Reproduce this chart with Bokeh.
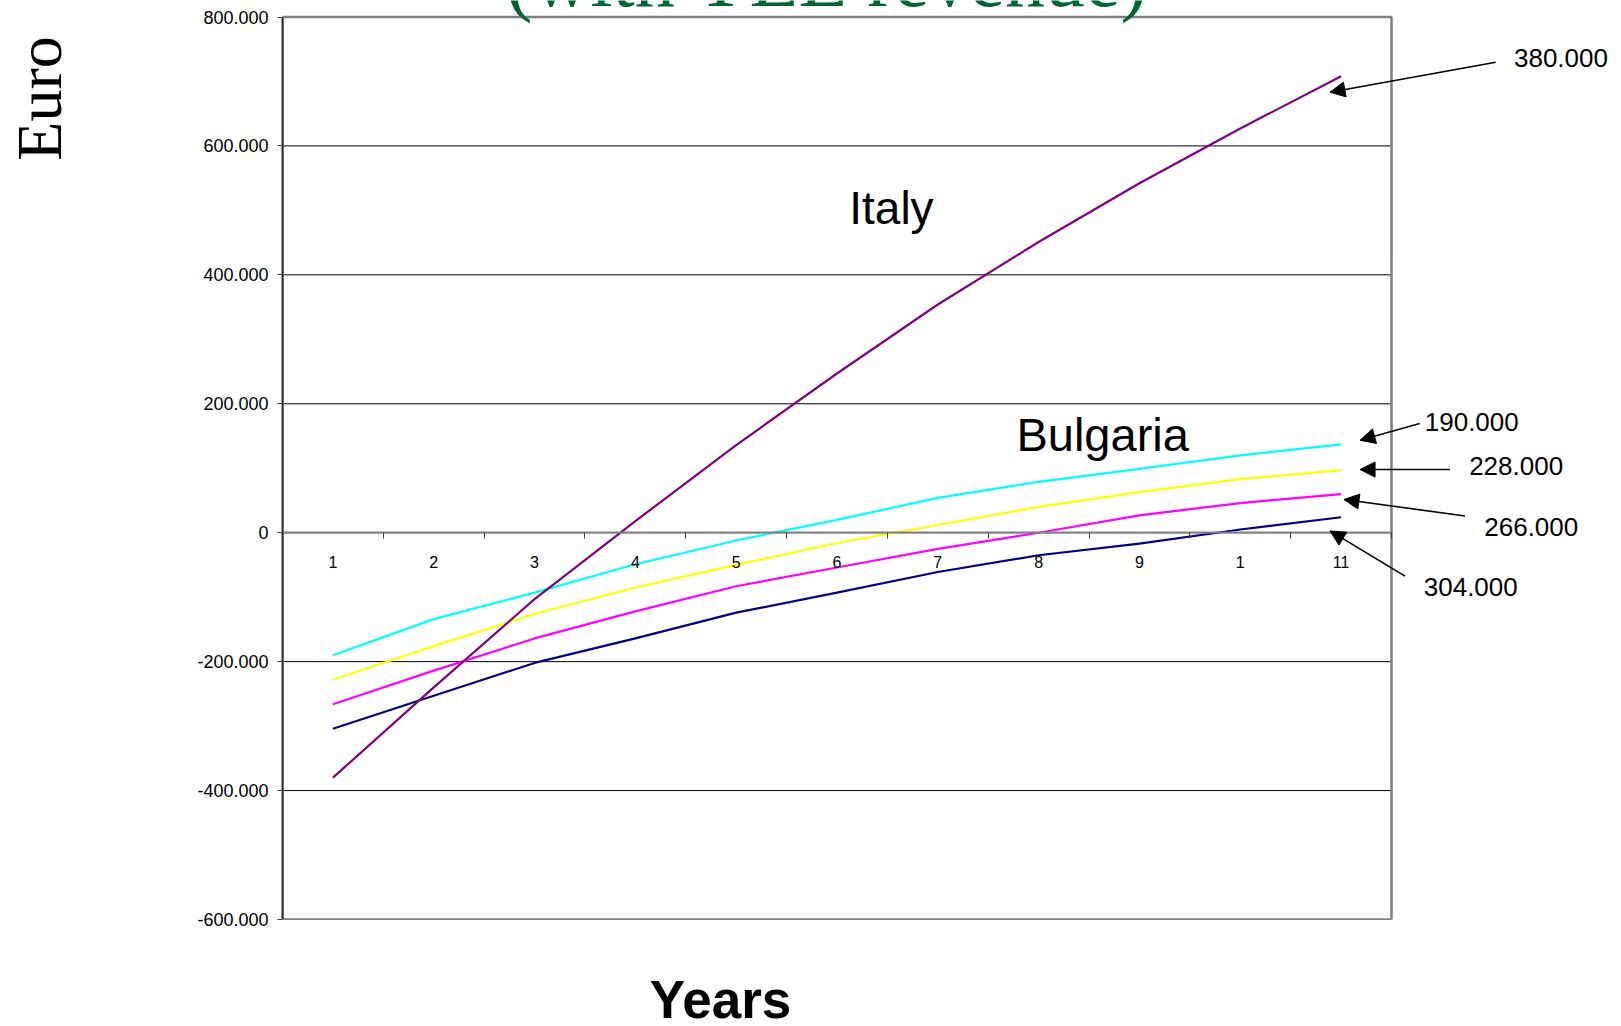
from math import pi
from bokeh.plotting import figure
from bokeh.layouts import column, row
from bokeh.models import FixedTicker, Label, Arrow, NormalHead, Range1d, ColumnDataSource
from bokeh.embed import file_html
from bokeh.resources import INLINE

# ---------------- data ----------------
years = [1, 2, 3, 4, 5, 6, 7, 8, 9, 10, 11]
year_labels = ["1", "2", "3", "4", "5", "6", "7", "8", "9", "1", "11"]

italy = [-380000, -240000, -103000, 18000, 136000, 247000, 354000, 451000, 542000, 627000, 708000]
bulgaria_190 = [-190000, -134000, -93000, -49000, -12000, 20000, 54000, 79000, 99000, 120000, 137000]
bulgaria_228 = [-228000, -176000, -126000, -85000, -50000, -16000, 12000, 40000, 63000, 83000, 97000]
bulgaria_266 = [-266000, -214000, -164000, -122000, -83000, -54000, -25000, 0, 27000, 46000, 60000]
bulgaria_304 = [-304000, -253000, -202000, -164000, -124000, -93000, -61000, -35000, -17000, 5000, 24000]

y_ticks = [-600000, -400000, -200000, 0, 200000, 400000, 600000, 800000]

series = [
    ("bulgaria_304", bulgaria_304, "#000080"),
    ("bulgaria_266", bulgaria_266, "#FF00FF"),
    ("bulgaria_228", bulgaria_228, "#FFFF00"),
    ("bulgaria_190", bulgaria_190, "#00FFFF"),
    ("italy", italy, "#800080"),
]


def euro(v):
    return f"{v:,}".replace(",", ".")


FONT = "Liberation Sans"
SERIF = "Liberation Serif"

# ---------------- layout geometry (pixels) ----------------
LEFT_STRIP = 100          # strip holding the vertical "Euro" title
MAIN_W, MAIN_H = 1521, 966
BORDER_L, BORDER_B = 182, 47
FRAME_W = MAIN_W - BORDER_L
FRAME_H = MAIN_H - BORDER_B
BOX_TOP_PX = 16.5          # plot box top inside the frame
PX_PER_YEAR = 1109 / 11.0
EUR_PER_PX = 1400000 / (FRAME_H - BOX_TOP_PX)

x_end = 0.5 + FRAME_W / PX_PER_YEAR
y_end = 800000 + BOX_TOP_PX * EUR_PER_PX

p = figure(width=MAIN_W, height=MAIN_H, output_backend="svg", toolbar_location=None,
           x_range=Range1d(0.5, x_end), y_range=Range1d(-600000, y_end),
           min_border_left=BORDER_L, min_border_right=0, min_border_top=0,
           min_border_bottom=BORDER_B, background_fill_color="white",
           border_fill_color="white")
p.outline_line_color = None
p.xgrid.visible = False
p.ygrid.visible = False

# horizontal grid lines inside the plot box
grid_src = ColumnDataSource(dict(x0=[0.5] * len(y_ticks), x1=[11.5] * len(y_ticks),
                                 y=y_ticks))
p.segment(x0="x0", x1="x1", y0="y", y1="y", source=grid_src, line_color="black",
          line_width=1)
# plot box
p.quad(left=[0.5], right=[11.5], bottom=[-600000], top=[800000], fill_color=None,
       line_color="#808080", line_width=2.5)

# y axis
p.yaxis.bounds = (-600000, 800000)
p.yaxis.ticker = FixedTicker(ticks=y_ticks)
p.yaxis.major_label_overrides = {t: euro(t) for t in y_ticks}
p.yaxis.major_label_text_font = FONT
p.yaxis.major_label_text_font_size = "18px"
p.yaxis.major_label_text_color = "black"
p.yaxis.major_tick_in = 0
p.yaxis.major_tick_out = 5
p.yaxis.minor_tick_line_color = None
p.yaxis.major_tick_line_color = "#404040"
p.yaxis.axis_line_color = "#303030"
p.yaxis.axis_line_width = 2
p.yaxis.major_label_standoff = 9

# x axis crossing at zero
p.xaxis.fixed_location = 0
p.xaxis.bounds = (0.5, 11.5)
p.xaxis.ticker = FixedTicker(ticks=years, minor_ticks=[y - 0.5 for y in years] + [11.5])
p.xaxis.major_label_overrides = {y: lab for y, lab in zip(years, year_labels)}
p.xaxis.major_label_text_font = FONT
p.xaxis.major_label_text_font_size = "16px"
p.xaxis.major_label_text_color = "black"
p.xaxis.major_tick_in = 0
p.xaxis.major_tick_out = 0
p.xaxis.minor_tick_in = 0
p.xaxis.minor_tick_out = 6
p.xaxis.minor_tick_line_color = "#404040"
p.xaxis.axis_line_color = "#808080"
p.xaxis.axis_line_width = 2
p.xaxis.major_label_standoff = 17

# lines
for name, vals, color in series:
    src = ColumnDataSource(dict(x=years, y=vals))
    p.line("x", "y", source=src, line_color=color, line_width=2.2)

# in-plot texts
p.add_layout(Label(x=5.91, y=858700, text="(with YEE revenue)", text_font=SERIF,
                   text_font_size="80px", text_color="#006633", text_align="center",
                   text_baseline="alphabetic"))
p.add_layout(Label(x=6.54, y=503500, text="Italy", text_font=FONT, text_font_size="46px",
                   text_color="black", text_align="center", text_baseline="alphabetic"))
p.add_layout(Label(x=8.635, y=152800, text="Bulgaria", text_font=FONT, text_font_size="47px",
                   text_color="black", text_align="center", text_baseline="alphabetic"))

# value callouts with arrows (label pos, arrow tail, arrow tip)
callouts = [
    (-italy[0], (12.715, 735700), (12.534, 729900), (10.890, 683400)),
    (-bulgaria_190[0], (11.83, 171800), (11.78, 169300), (11.188, 143400)),
    (-bulgaria_228[0], (12.27, 103100), (12.08, 98000), (11.188, 98000)),
    (-bulgaria_266[0], (12.42, 9000), (12.23, 26000), (11.029, 51500)),
    (-bulgaria_304[0], (11.82, -84000), (11.634, -67400), (10.89, 2800)),
]
for v, (lx, ly), (tx, ty), (hx, hy) in callouts:
    p.add_layout(Label(x=lx, y=ly, text=euro(v), text_font=FONT, text_font_size="26px",
                       text_color="black", text_align="left", text_baseline="alphabetic"))
    p.add_layout(Arrow(end=NormalHead(size=15, fill_color="black", line_color="black",
                                      line_width=1),
                       x_start=tx, y_start=ty, x_end=hx, y_end=hy,
                       line_color="black", line_width=1.6))

# left strip with the vertical axis title
euro_fig = figure(width=LEFT_STRIP, height=MAIN_H, output_backend="svg",
                  toolbar_location=None, x_axis_type=None, y_axis_type=None,
                  x_range=Range1d(0, LEFT_STRIP), y_range=Range1d(MAIN_H, 0),
                  min_border=0, outline_line_color=None)
euro_fig.add_layout(Label(x=39, y=103, text="Euro", text_font=SERIF, text_font_size="64px",
                          text_color="black", angle=pi / 2, text_align="center",
                          text_baseline="alphabetic"))

# bottom strip with the horizontal axis title
YEARS_H = 1026 - MAIN_H
years_fig = figure(width=LEFT_STRIP + MAIN_W, height=YEARS_H, output_backend="svg",
                   toolbar_location=None, x_axis_type=None, y_axis_type=None,
                   x_range=Range1d(0, LEFT_STRIP + MAIN_W), y_range=Range1d(YEARS_H, 0),
                   min_border=0, outline_line_color=None)
years_fig.add_layout(Label(x=720, y=33, text="Years", text_font=FONT, text_font_size="53px",
                           text_font_style="bold", text_color="black", text_align="center",
                           text_baseline="alphabetic"))

layout = column(row(euro_fig, p), years_fig)
open("out.html", "w").write(file_html(layout, INLINE))
